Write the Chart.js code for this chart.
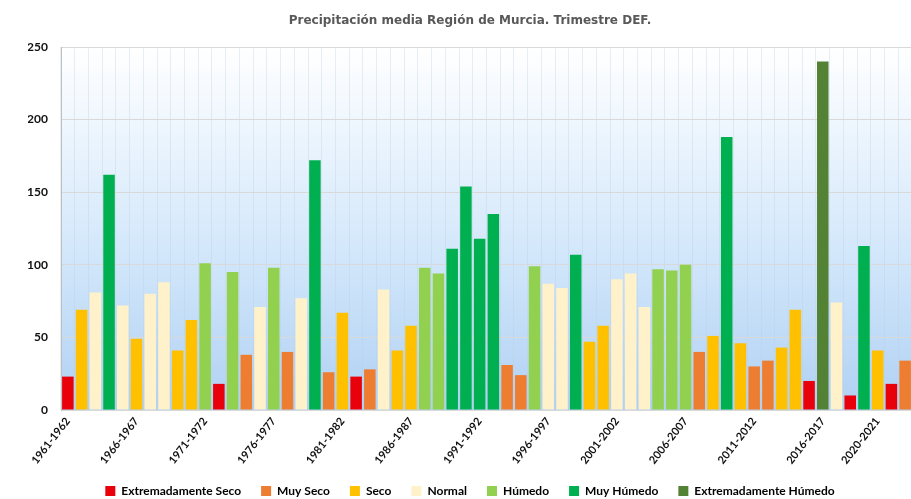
<!DOCTYPE html>
<html>
<head>
<meta charset="utf-8">
<script src="https://cdn.jsdelivr.net/npm/chart.js@4"></script>
<style>
  html, body { margin: 0; padding: 0; background: #fff; overflow: hidden; width: 911px; height: 499px; }
  #wrap { width: 911px; height: 499px; overflow: hidden; position: relative; }
  #precip { position: absolute; left: 0; top: 0; width: 940px; height: 499px; }
</style>
</head>
<body>
<div id="wrap"><canvas id="precip" width="940" height="499"></canvas></div>
<script>
// temporadas DEF 1961-1962 ... 2022-2023
var seasons = [];
for (var y = 1961; y <= 2022; y++) seasons.push(y + '-' + (y + 1));

// precipitación media (mm)
var precip = [23, 69, 81, 162, 72, 49, 80, 88, 41, 62,
              101, 18, 95, 38, 71, 98, 40, 77, 172, 26,
              67, 23, 28, 83, 41, 58, 98, 94, 111, 154,
              118, 135, 31, 24, 99, 87, 84, 107, 47, 58,
              90, 94, 71, 97, 96, 100, 40, 51, 188, 46,
              30, 34, 43, 69, 20, 240, 74, 10, 113, 41,
              18, 34];

// clase de cada temporada (índice en classNames)
var classIdx = [0, 2, 3, 5, 3, 2, 3, 3, 2, 2,
                4, 0, 4, 1, 3, 4, 1, 3, 5, 1,
                2, 0, 1, 3, 2, 2, 4, 4, 5, 5,
                5, 5, 1, 1, 4, 3, 3, 5, 2, 2,
                3, 3, 3, 4, 4, 4, 1, 2, 5, 2,
                1, 1, 2, 2, 0, 6, 3, 0, 5, 2,
                0, 1];

var classNames = ['Extremadamente Seco', 'Muy Seco', 'Seco', 'Normal', 'Húmedo', 'Muy Húmedo', 'Extremadamente Húmedo'];
var classColors = ['#e8000b', '#ed7d31', '#ffc000', '#fff1c9', '#92d050', '#00b050', '#548235'];

// etiquetas visibles del eje X
var shownTicks = ['1961-1962', '1966-1967', '1971-1972', '1976-1977', '1981-1982', '1986-1987',
                  '1991-1992', '1996-1997', '2001-2002', '2006-2007', '2011-2012', '2016-2017', '2020-2021'];

var yTicks = [0, 50, 100, 150, 200, 250];

var plotBg = {
  id: 'plotBg',
  beforeDraw: function (chart) {
    var a = chart.chartArea, c = chart.ctx;
    var g = c.createLinearGradient(0, a.top, 0, a.bottom);
    g.addColorStop(0, '#ffffff');
    g.addColorStop(0.55, '#d4e8fb');
    g.addColorStop(1, '#b0d1f3');
    c.save();
    c.fillStyle = g;
    c.fillRect(a.left, a.top, a.right - a.left, a.bottom - a.top);
    c.restore();
  }
};

var ctx = document.getElementById('precip').getContext('2d');
var chart = new Chart(ctx, {
  type: 'bar',
  data: {
    labels: seasons,
    datasets: [{
      label: 'Precipitación',
      data: precip,
      backgroundColor: classIdx.map(function (k) { return classColors[k]; }),
      borderWidth: 0,
      categoryPercentage: 1.0,
      barPercentage: 0.84
    }]
  },
  options: {
    responsive: false,
    animation: false,
    devicePixelRatio: 1,
    layout: { padding: { left: 28, right: 28, top: 0, bottom: 0 } },
    plugins: {
      title: {
        display: true,
        text: 'Precipitación media Región de Murcia. Trimestre DEF.',
        color: '#595959',
        font: { family: 'DejaVu Sans', size: 12, weight: 'bold' },
        padding: { top: 14, bottom: 18.6 }
      },
      legend: {
        position: 'bottom',
        maxHeight: 34,
        labels: {
          color: '#111',
          font: { family: 'Lato', size: 12, weight: 'bold' },
          boxWidth: 10,
          boxHeight: 10,
          padding: 20,
          generateLabels: function () {
            return classNames.map(function (n, i) {
              return { text: n, fillStyle: classColors[i], strokeStyle: classColors[i], lineWidth: 0, index: i };
            });
          }
        },
        onClick: null
      },
      tooltip: { enabled: false }
    },
    scales: {
      x: {
        grid: {
          offset: true,
          color: 'rgba(190,205,220,0.35)',
          drawTicks: false
        },
        border: { color: '#d9d9d9' },
        ticks: {
          autoSkip: false,
          maxRotation: 52,
          minRotation: 52,
          color: '#111',
          padding: 5,
          font: { family: 'Lato', size: 11, weight: 'bold' },
          callback: function (v, i) {
            var s = seasons[i];
            return shownTicks.indexOf(s) >= 0 ? s : '';
          }
        },
        afterFit: function (s) { s.height = 55; }
      },
      y: {
        min: 0,
        max: 250,
        afterBuildTicks: function (s) { s.ticks = yTicks.map(function (v) { return { value: v }; }); },
        grid: { color: '#d9d9d9', drawTicks: false },
        border: { color: '#bfbfbf' },
        ticks: {
          color: '#111',
          padding: 13,
          font: { family: 'Lato', size: 12, weight: 'bold' }
        },
        afterFit: function (s) { s.width = 33; }
      }
    }
  },
  plugins: [plotBg]
});
</script>
</body>
</html>
